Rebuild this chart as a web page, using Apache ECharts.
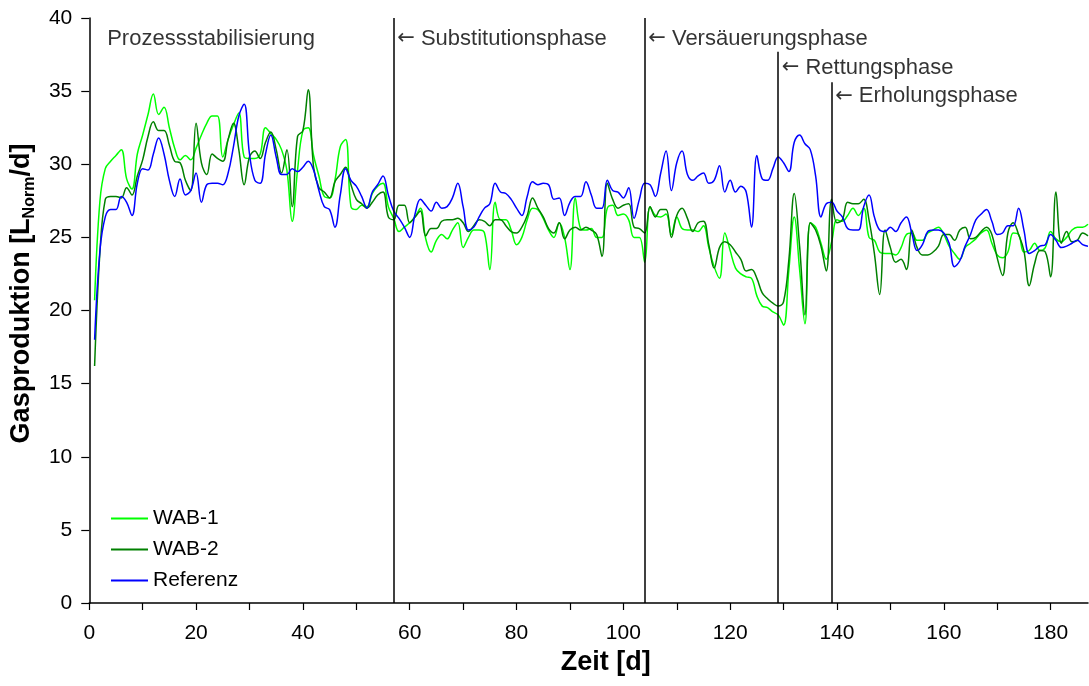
<!DOCTYPE html>
<html>
<head>
<meta charset="utf-8">
<script src="https://cdn.jsdelivr.net/npm/echarts@6/dist/echarts.min.js"></script>
<style>
html,body{margin:0;padding:0;background:#fff;}
#chart{width:1089px;height:686px;}
</style>
</head>
<body>
<div id="chart"></div>
<script>
// Daily values, day 1 .. 187
const wab1 = [20.7,27.5,29.7,30.2,30.6,31.0,29.0,28.3,30.7,32.0,33.4,34.8,33.4,33.9,32.5,31.1,30.3,30.6,30.3,31.1,
32.0,32.8,33.3,33.3,30.5,31.7,32.7,33.5,30.5,30.4,30.4,30.7,32.5,32.1,31.7,31.0,29.6,26.1,29.6,32.3,
32.5,30.6,29.2,27.8,27.7,28.9,31.2,31.7,27.1,26.9,27.2,27.1,28.0,28.5,28.7,27.1,26.3,25.4,25.7,26.0,
26.4,27.0,24.9,24.0,24.8,25.2,24.9,25.5,26.0,24.3,25.0,25.5,25.5,25.3,22.8,27.4,26.2,26.2,25.5,24.5,
25.0,26.2,27.0,26.9,26.3,25.5,25.0,26.0,25.0,22.8,27.7,25.6,25.5,25.6,25.0,25.0,27.0,27.2,26.5,26.6,
26.2,25.0,25.0,23.3,27.1,26.5,26.4,26.6,25.2,26.4,25.6,25.5,25.5,25.4,25.8,24.3,23.0,22.2,25.3,24.1,
22.9,22.5,22.3,22.2,21.0,20.3,20.2,19.9,19.7,19.0,22.8,26.4,22.8,19.1,26.0,25.7,24.6,23.5,24.7,26.2,
26.1,26.5,27.0,26.5,27.0,25.0,24.8,24.0,23.9,23.9,23.8,24.3,25.2,25.3,24.8,24.8,25.3,25.5,25.7,25.2,
24.4,23.9,23.5,24.3,24.6,24.9,25.3,25.5,24.6,23.8,23.6,24.0,25.3,25.2,24.0,24.1,24.6,24.1,24.3,25.4,
24.9,24.7,25.0,25.5,25.7,25.7,25.9];
const wab2 = [16.2,24.0,27.6,27.8,27.8,27.7,28.4,27.9,29.2,30.3,31.9,32.9,32.3,32.3,31.3,30.2,30.1,28.9,28.2,32.8,
30.1,29.3,30.7,30.4,30.2,31.7,32.8,31.0,28.6,30.5,30.9,30.4,31.5,32.2,31.0,29.4,31.0,27.1,31.9,32.3,
35.1,29.8,28.4,28.1,27.7,28.8,29.3,29.8,28.6,27.6,27.3,27.0,27.4,27.9,28.1,26.4,26.2,27.2,27.2,26.0,
26.4,26.8,25.1,25.6,25.6,26.1,26.2,26.2,26.3,26.0,25.4,25.8,26.2,26.1,25.8,26.2,26.2,25.8,25.4,25.3,
25.7,26.5,27.7,27.0,26.4,25.6,25.3,26.0,24.9,25.5,25.7,25.5,25.7,25.5,25.2,23.7,28.7,27.6,27.0,27.2,
27.3,25.7,25.6,25.3,27.1,26.4,26.9,26.9,25.0,26.5,27.0,26.3,25.4,26.0,26.1,24.5,22.9,24.3,24.7,24.5,
24.0,23.5,22.7,22.8,22.2,21.2,20.8,20.5,20.3,20.6,23.5,28.0,24.4,19.7,26.0,25.5,24.4,22.7,27.6,26.0,
26.2,27.4,27.3,27.3,27.6,26.2,23.9,21.1,25.5,24.3,23.3,23.5,22.8,25.5,24.3,23.8,23.8,24.0,24.4,25.2,
25.2,24.8,25.5,25.7,24.9,25.0,25.4,25.7,25.2,23.6,22.4,25.3,26.0,25.2,24.1,21.7,23.2,24.1,24.0,22.3,
28.1,24.6,25.4,24.7,24.8,25.3,25.1];
const referenz = [18.0,24.1,26.4,26.9,26.9,27.8,27.4,26.5,28.7,29.7,29.6,30.7,31.8,30.7,28.9,27.8,29.0,27.9,28.2,29.4,
27.4,28.6,28.7,28.7,28.6,29.4,31.2,33.3,34.1,30.7,28.9,28.7,30.7,32.0,30.5,29.3,29.3,29.7,29.5,29.8,
30.2,29.6,28.2,27.1,26.9,25.7,27.9,29.7,28.9,28.5,27.8,27.0,28.1,28.6,29.2,27.9,26.8,26.3,25.7,25.0,
26.6,27.6,27.2,26.8,27.4,27.0,27.1,27.7,28.7,27.1,25.5,25.7,26.4,27.0,27.3,28.7,28.1,28.0,27.6,27.0,
26.5,27.8,28.8,28.6,28.7,28.6,27.6,27.7,26.5,27.4,27.8,27.8,28.8,27.9,27.0,27.0,28.9,28.2,28.1,27.7,
28.4,26.3,27.6,28.7,28.6,27.8,29.4,30.9,28.2,30.1,30.9,29.3,28.9,29.2,29.4,28.7,28.9,29.9,28.1,28.9,
28.1,28.5,28.1,25.7,30.6,29.0,28.9,29.7,30.5,30.1,29.5,31.5,32.0,31.4,31.0,29.2,26.4,27.3,27.4,26.8,
26.4,25.6,25.5,25.5,27.1,27.9,26.4,25.5,25.4,25.7,25.4,26.0,26.4,25.3,24.1,24.5,25.4,25.5,25.5,25.3,
24.6,23.0,23.4,24.4,25.2,26.2,26.6,26.9,26.1,25.2,25.3,25.8,25.8,27.0,25.5,23.9,24.1,24.4,24.5,25.2,
24.8,24.3,24.4,24.6,24.8,24.5,24.4];
const firstDay = 1;

// Phase boundaries and annotations
const phaseDays = [57, 104, 129, 139];
const phaseTops = [40, 40, 37.7, 35.6];
const annoDays = [2.7, 57, 104, 129, 139];
const annoValues = [38.6, 38.6, 38.6, 36.6, 34.65];
const annoTexts = ['Prozessstabilisierung', 'Substitutionsphase', 'Vers\u00e4uerungsphase', 'Rettungsphase', 'Erholungsphase'];
const annoArrow = [false, true, true, true, true];

const seriesNames = ['WAB-1', 'WAB-2', 'Referenz'];
const seriesColors = ['#00ff00', '#008000', '#0000ff'];

const FONT = 'Liberation Sans, Arial, sans-serif';

function toPairs(arr) { return arr.map((v, i) => [firstDay + i, v]); }

const chart = echarts.init(document.getElementById('chart'), null, {renderer: 'canvas'});
const lineSeries = [wab1, wab2, referenz].map((arr, k) => ({
  name: seriesNames[k],
  type: 'line',
  data: toPairs(arr),
  smooth: 0.4,
  symbol: 'none',
  showSymbol: false,
  lineStyle: {color: seriesColors[k], width: 1.5},
  itemStyle: {color: seriesColors[k]},
  z: 3
}));

const option = {
  animation: false,
  backgroundColor: '#fff',
  textStyle: {fontFamily: FONT},
  grid: {left: 86, right: 1, top: 18, bottom: 83, containLabel: false},
  legend: {
    data: seriesNames.map(n => ({name: n, icon: 'rect'})),
    orient: 'vertical',
    left: 106, top: 503,
    itemWidth: 37, itemHeight: 2, itemGap: 10,
    textStyle: {fontSize: 21, color: '#000', fontFamily: FONT, lineHeight: 21}
  },
  xAxis: {
    type: 'value', min: 0, max: 187, interval: 10,
    name: 'Zeit [d]', nameLocation: 'middle', nameGap: 44,
    nameTextStyle: {fontSize: 27, fontWeight: 'bold', color: '#000', fontFamily: FONT, padding: [0, 0, 0, 34]},
    axisLine: {show: true, onZero: false, lineStyle: {color: '#000', width: 1.5}},
    axisTick: {show: true, inside: false, length: 7, lineStyle: {color: '#000', width: 1.2}},
    axisLabel: {
      fontSize: 21, color: '#000', margin: 20, fontFamily: FONT,
      showMaxLabel: false,
      formatter: v => (v % 20 === 0 ? String(v) : '')
    },
    splitLine: {show: false}
  },
  yAxis: {
    type: 'value', min: 0, max: 40, interval: 5,
    name: '{a|Gasproduktion [L}{b|Norm}{a|/d]}', nameLocation: 'middle', nameGap: 48, nameRotate: 90,
    nameTextStyle: {
      padding: [0, 0, 0, 34],
      rich: {
        a: {fontSize: 27, fontWeight: 'bold', color: '#000', fontFamily: FONT, lineHeight: 30, verticalAlign: 'bottom'},
        b: {fontSize: 16, fontWeight: 'bold', color: '#000', fontFamily: FONT, lineHeight: 30, verticalAlign: 'bottom', padding: [0, 0, -3, 0]}
      }
    },
    axisLine: {show: true, lineStyle: {color: '#000', width: 1.5}},
    axisTick: {show: true, inside: false, length: 8, lineStyle: {color: '#000', width: 1.2}},
    axisLabel: {fontSize: 21, color: '#000', margin: 17, fontFamily: FONT},
    splitLine: {show: false}
  },
  series: lineSeries.concat([{
    name: 'annotations',
    type: 'scatter',
    symbolSize: 1,
    itemStyle: {color: 'rgba(0,0,0,0)'},
    silent: true,
    z: 5,
    data: annoDays.map((d, i) => ({value: [d, annoValues[i]], name: annoTexts[i], arrow: annoArrow[i]})),
    label: {
      show: true, position: 'right', distance: 3,
      formatter: p => (p.data.arrow ? '{arr|\u2190}{t| ' + p.name + '}' : '{t|' + p.name + '}'),
      fontSize: 22, color: '#000', fontFamily: FONT,
      rich: {
        arr: {fontFamily: 'DejaVu Sans', fontSize: 21, color: '#000', lineHeight: 24},
        t: {fontFamily: FONT, fontSize: 22, color: '#000', lineHeight: 24}
      }
    },
    labelLayout: {hideOverlap: false},
    markLine: {
      silent: true,
      symbol: ['none', 'none'],
      label: {show: false},
      lineStyle: {color: '#000', width: 1.5, type: 'solid'},
      data: phaseDays.map((d, i) => [{coord: [d, 0]}, {coord: [d, phaseTops[i]]}])
    }
  }])
};
chart.setOption(option);
</script>
</body>
</html>
